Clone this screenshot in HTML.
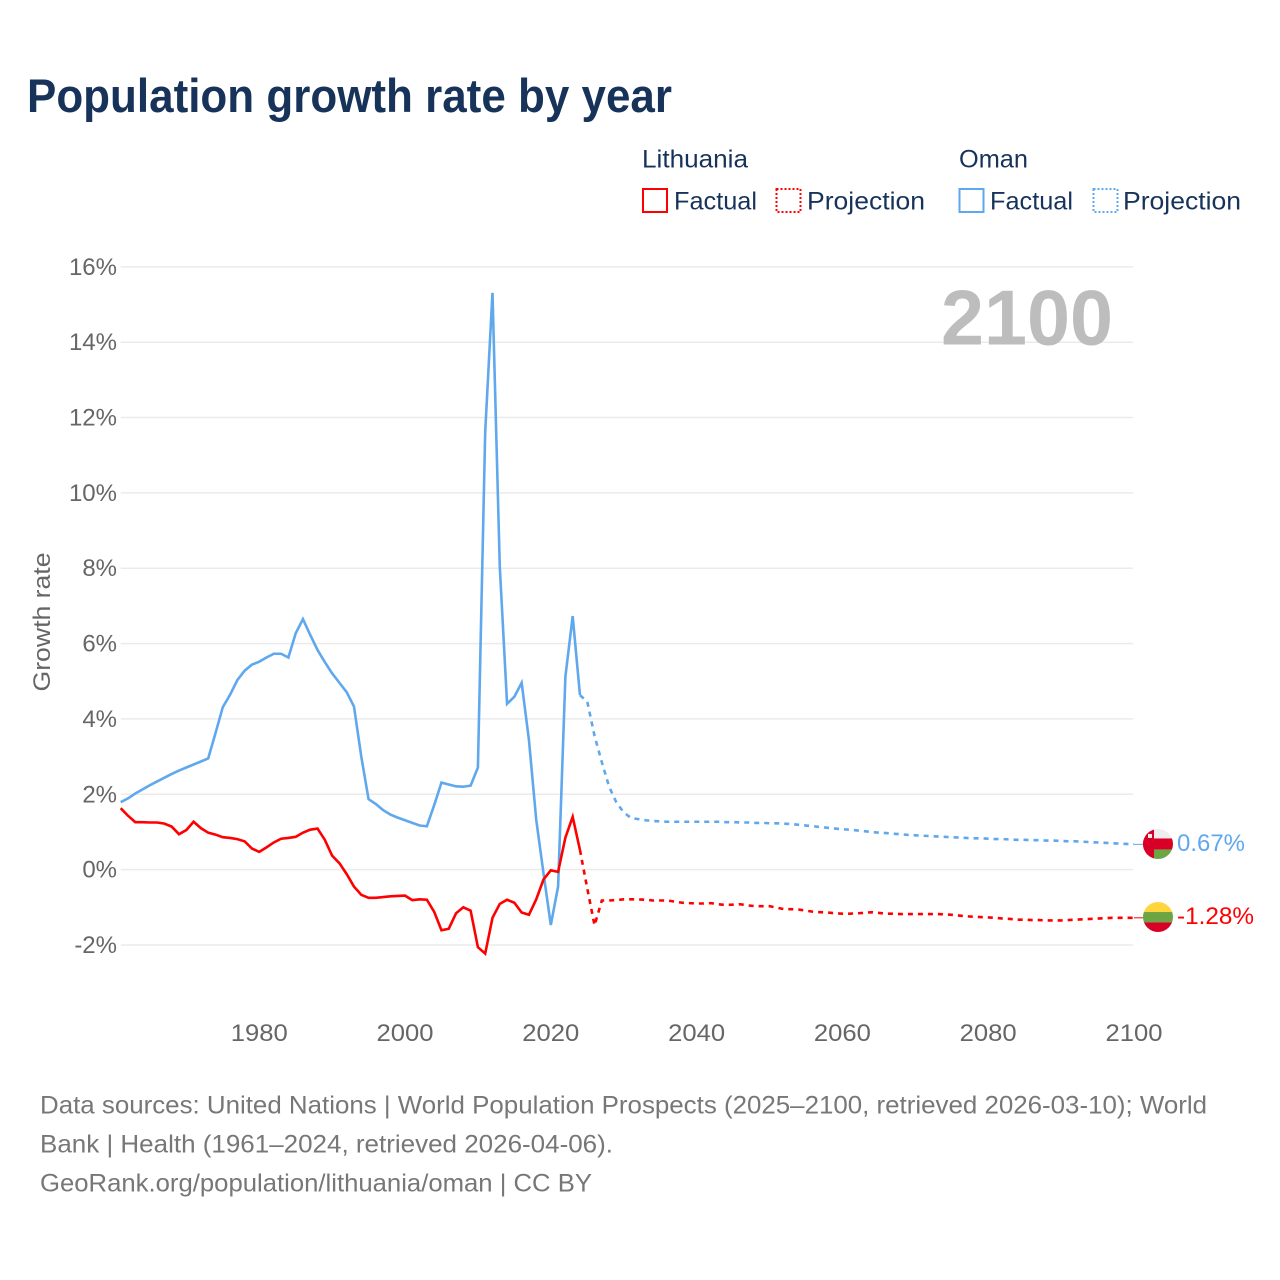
<!DOCTYPE html>
<html lang="en">
<head>
<meta charset="utf-8">
<title>Population growth rate by year</title>
<style>
html,body{margin:0;padding:0;background:#fff}
svg{display:block}
text{font-family:"Liberation Sans",sans-serif}
</style>
</head>
<body>
<svg id="chart" width="1280" height="1280" viewBox="0 0 1280 1280" xmlns="http://www.w3.org/2000/svg">
  <defs>
    <clipPath id="clip-oman"><circle id="clip-oman-circle" cx="1158" cy="844" r="15"/></clipPath>
    <clipPath id="clip-lithuania"><circle id="clip-lithuania-circle" cx="1158" cy="917" r="15"/></clipPath>
  </defs>
  <rect width="1280" height="1280" fill="#fff"/>
  <text x="27" y="112" font-size="47" font-weight="700" fill="#17335a" textLength="645" lengthAdjust="spacingAndGlyphs">Population growth rate by year</text>

  <g font-size="25" fill="#17335a">
    <text x="642" y="167.5" textLength="106" lengthAdjust="spacingAndGlyphs">Lithuania</text>
    <rect x="643" y="189" width="24" height="23" fill="none" stroke="#ff0000" stroke-width="2"/>
    <text x="674" y="209.5" textLength="83" lengthAdjust="spacingAndGlyphs">Factual</text>
    <rect x="776.5" y="189" width="24" height="23" fill="none" stroke="#ff0000" stroke-width="2" stroke-dasharray="2 2"/>
    <text x="807" y="209.5" textLength="118" lengthAdjust="spacingAndGlyphs">Projection</text>
    <text x="959" y="167.5" textLength="69" lengthAdjust="spacingAndGlyphs">Oman</text>
    <rect x="959.5" y="189" width="24" height="23" fill="none" stroke="#5fa8ee" stroke-width="2"/>
    <text x="990" y="209.5" textLength="83" lengthAdjust="spacingAndGlyphs">Factual</text>
    <rect x="1093.5" y="189" width="24" height="23" fill="none" stroke="#5fa8ee" stroke-width="2" stroke-dasharray="2 2"/>
    <text x="1123" y="209.5" textLength="118" lengthAdjust="spacingAndGlyphs">Projection</text>
  </g>

  <g id="grid"></g>
  <g id="y-axis"></g>
  <g id="x-axis"></g>
  <text transform="translate(50 622) rotate(-90)" text-anchor="middle" font-size="24" fill="#666" textLength="139" lengthAdjust="spacingAndGlyphs">Growth rate</text>
  <text x="941" y="344.5" font-size="78" font-weight="700" fill="#bdbdbd" textLength="172" lengthAdjust="spacingAndGlyphs">2100</text>

  <g id="series"></g>

  <g id="flag-oman">
    <g clip-path="url(#clip-oman)">
      <rect x="1143" y="829" width="30" height="10" fill="#eeeeee"/>
      <rect x="1143" y="838.5" width="30" height="11" fill="#d80027"/>
      <rect x="1154" y="849.5" width="19" height="10" fill="#6da544"/>
      <rect x="1143" y="829" width="11" height="31" fill="#d80027"/>
      <rect x="1148" y="834" width="4" height="4" fill="#eeeeee"/>
    </g>
  </g>
  <g id="flag-lithuania">
    <g clip-path="url(#clip-lithuania)">
      <rect x="1143" y="902" width="30" height="10.5" fill="#ffd53d"/>
      <rect x="1143" y="912" width="30" height="11" fill="#6da544"/>
      <rect x="1143" y="922.5" width="30" height="10.5" fill="#d80027"/>
    </g>
  </g>
  <text id="label-oman" x="1177" y="851" font-size="24" fill="#5fa8ee" textLength="68" lengthAdjust="spacingAndGlyphs"></text>
  <text id="label-lithuania" x="1177" y="924" font-size="24" fill="#ff0000" textLength="77" lengthAdjust="spacingAndGlyphs"></text>

  <g font-size="25" fill="#777">
    <text x="40" y="1113.5" textLength="1167" lengthAdjust="spacingAndGlyphs">Data sources: United Nations | World Population Prospects (2025–2100, retrieved 2026-03-10); World</text>
    <text x="40" y="1152.5" textLength="573" lengthAdjust="spacingAndGlyphs">Bank | Health (1961–2024, retrieved 2026-04-06).</text>
    <text x="40" y="1191.5" textLength="552" lengthAdjust="spacingAndGlyphs">GeoRank.org/population/lithuania/oman | CC BY</text>
  </g>
</svg>

<script>
const xTickYears = [1980, 2000, 2020, 2040, 2060, 2080, 2100];
const yTickValues = [-2, 0, 2, 4, 6, 8, 10, 12, 14, 16];
const yTickLabels = ['-2%', '0%', '2%', '4%', '6%', '8%', '10%', '12%', '14%', '16%'];

const factualYears = [1961,1962,1963,1964,1965,1966,1967,1968,1969,1970,1971,1972,1973,1974,1975,1976,1977,1978,1979,1980,1981,1982,1983,1984,1985,1986,1987,1988,1989,1990,1991,1992,1993,1994,1995,1996,1997,1998,1999,2000,2001,2002,2003,2004,2005,2006,2007,2008,2009,2010,2011,2012,2013,2014,2015,2016,2017,2018,2019,2020,2021,2022,2023,2024];
const projectionYears = [2024,2025,2026,2027,2028,2029,2030,2031,2032,2033,2034,2035,2036,2037,2038,2039,2040,2041,2042,2043,2044,2045,2046,2047,2048,2049,2050,2051,2052,2053,2054,2055,2056,2057,2058,2059,2060,2061,2062,2063,2064,2065,2066,2067,2068,2069,2070,2071,2072,2073,2074,2075,2076,2077,2078,2079,2080,2081,2082,2083,2084,2085,2086,2087,2088,2089,2090,2091,2092,2093,2094,2095,2096,2097,2098,2099,2100];

const omanFactual = [1.79,1.89,2.02,2.13,2.24,2.34,2.44,2.54,2.63,2.71,2.79,2.87,2.95,3.62,4.31,4.64,5.03,5.28,5.44,5.52,5.63,5.73,5.73,5.63,6.27,6.65,6.23,5.83,5.51,5.21,4.96,4.71,4.33,3.00,1.87,1.74,1.58,1.46,1.38,1.31,1.24,1.17,1.15,1.71,2.31,2.26,2.21,2.20,2.23,2.71,11.62,15.31,8.04,4.40,4.59,4.96,3.44,1.32,-0.10,-1.47,-0.45,5.12,6.73,4.63];
const omanProjection = [4.63,4.46,3.55,2.85,2.20,1.78,1.52,1.37,1.34,1.31,1.29,1.28,1.27,1.27,1.27,1.27,1.27,1.27,1.27,1.27,1.26,1.26,1.25,1.25,1.24,1.24,1.23,1.23,1.22,1.21,1.19,1.17,1.15,1.13,1.11,1.09,1.07,1.06,1.04,1.02,1.00,0.98,0.97,0.95,0.94,0.92,0.91,0.90,0.89,0.88,0.87,0.86,0.85,0.84,0.83,0.83,0.82,0.81,0.81,0.80,0.79,0.79,0.78,0.78,0.77,0.77,0.76,0.75,0.75,0.74,0.73,0.72,0.71,0.70,0.69,0.68,0.67];
const lithuaniaFactual = [1.63,1.43,1.26,1.26,1.25,1.25,1.22,1.14,0.94,1.05,1.27,1.10,0.98,0.93,0.86,0.84,0.81,0.75,0.56,0.47,0.59,0.72,0.82,0.84,0.87,0.98,1.06,1.09,0.79,0.37,0.17,-0.12,-0.45,-0.67,-0.75,-0.75,-0.73,-0.71,-0.70,-0.69,-0.81,-0.79,-0.80,-1.12,-1.61,-1.57,-1.16,-1.00,-1.09,-2.06,-2.23,-1.28,-0.91,-0.80,-0.88,-1.14,-1.20,-0.79,-0.26,-0.02,-0.06,0.85,1.40,0.52];
const lithuaniaProjection = [0.52,-0.50,-1.48,-0.82,-0.82,-0.81,-0.79,-0.79,-0.79,-0.80,-0.82,-0.82,-0.82,-0.85,-0.88,-0.89,-0.90,-0.90,-0.89,-0.92,-0.94,-0.93,-0.92,-0.95,-0.97,-0.97,-0.97,-1.01,-1.05,-1.05,-1.06,-1.09,-1.12,-1.13,-1.14,-1.16,-1.17,-1.17,-1.16,-1.15,-1.13,-1.15,-1.17,-1.17,-1.18,-1.18,-1.18,-1.18,-1.18,-1.18,-1.19,-1.20,-1.22,-1.24,-1.25,-1.26,-1.27,-1.28,-1.30,-1.31,-1.33,-1.33,-1.34,-1.34,-1.35,-1.35,-1.35,-1.34,-1.33,-1.32,-1.31,-1.30,-1.29,-1.28,-1.28,-1.28,-1.28];

const omanEndLabel = '0.67%';
const lithuaniaEndLabel = '-1.28%';

const SVG_NS = 'http://www.w3.org/2000/svg';
const xDomain = [1961, 2100];
const xRange = [120.7, 1134];
const yZero = 869.6;
const yPerUnit = 37.67;

function xScale(year) {
  return xRange[0] + (year - xDomain[0]) * (xRange[1] - xRange[0]) / (xDomain[1] - xDomain[0]);
}
function yScale(value) {
  return yZero - value * yPerUnit;
}
function makeSvg(tag, attrs, parent) {
  const el = document.createElementNS(SVG_NS, tag);
  for (const key in attrs) el.setAttribute(key, attrs[key]);
  parent.appendChild(el);
  return el;
}
function linePoints(years, values) {
  return years.map(function (year, i) {
    return xScale(year).toFixed(2) + ',' + yScale(values[i]).toFixed(2);
  }).join(' ');
}

const gridGroup = document.getElementById('grid');
const yAxisGroup = document.getElementById('y-axis');
const xAxisGroup = document.getElementById('x-axis');
const seriesGroup = document.getElementById('series');

yTickValues.forEach(function (value, i) {
  const gridline = makeSvg('line', {x1: xRange[0], x2: 1133, y1: yScale(value), y2: yScale(value), stroke: '#ebebeb', 'stroke-width': 1.5}, gridGroup);
  
  
  const tick = makeSvg('text', {x: 117, y: yScale(value) + 8, 'text-anchor': 'end', 'font-size': 24, fill: '#666'}, yAxisGroup);
  
  
  tick.textContent = yTickLabels[i];
});

xTickYears.forEach(function (year) {
  const tick = makeSvg('text', {x: xScale(year), y: 1041, 'text-anchor': 'middle', 'font-size': 24, fill: '#666', textLength: 57, lengthAdjust: 'spacingAndGlyphs'}, xAxisGroup);
  
  
  tick.textContent = String(year);
});

const omanFactualLine = makeSvg('polyline', {points: linePoints(factualYears, omanFactual), fill: 'none', stroke: '#5fa8ee', 'stroke-width': 2.6, 'stroke-linejoin': 'miter'}, seriesGroup);



const omanProjectionLine = makeSvg('polyline', {points: linePoints(projectionYears, omanProjection), fill: 'none', stroke: '#5fa8ee', 'stroke-width': 2.6, 'stroke-dasharray': '5 5'}, seriesGroup);



const lithuaniaFactualLine = makeSvg('polyline', {points: linePoints(factualYears, lithuaniaFactual), fill: 'none', stroke: '#ff0000', 'stroke-width': 2.6, 'stroke-linejoin': 'miter'}, seriesGroup);



const lithuaniaProjectionLine = makeSvg('polyline', {points: linePoints(projectionYears, lithuaniaProjection), fill: 'none', stroke: '#ff0000', 'stroke-width': 2.6, 'stroke-dasharray': '5 5'}, seriesGroup);



const omanEndY = yScale(omanProjection[omanProjection.length - 1]);
const lithuaniaEndY = yScale(lithuaniaProjection[lithuaniaProjection.length - 1]);

const omanConnector = makeSvg('line', {x1: xRange[1], x2: 1144, y1: omanEndY, y2: omanEndY, stroke: '#5fa8ee', 'stroke-width': 1}, seriesGroup);



const lithuaniaConnector = makeSvg('line', {x1: xRange[1], x2: 1144, y1: lithuaniaEndY, y2: lithuaniaEndY, stroke: '#ff0000', 'stroke-width': 1}, seriesGroup);



document.getElementById('flag-oman').setAttribute('transform', 'translate(0 ' + (omanEndY - 844.4).toFixed(2) + ')');
document.getElementById('flag-lithuania').setAttribute('transform', 'translate(0 ' + (lithuaniaEndY - 917.8).toFixed(2) + ')');

const omanLabel = document.getElementById('label-oman');
omanLabel.textContent = omanEndLabel;
omanLabel.setAttribute('y', (omanEndY + 6.6).toFixed(2));

const lithuaniaLabel = document.getElementById('label-lithuania');
lithuaniaLabel.textContent = lithuaniaEndLabel;
lithuaniaLabel.setAttribute('y', (lithuaniaEndY + 6.2).toFixed(2));
</script>
</body>
</html>
